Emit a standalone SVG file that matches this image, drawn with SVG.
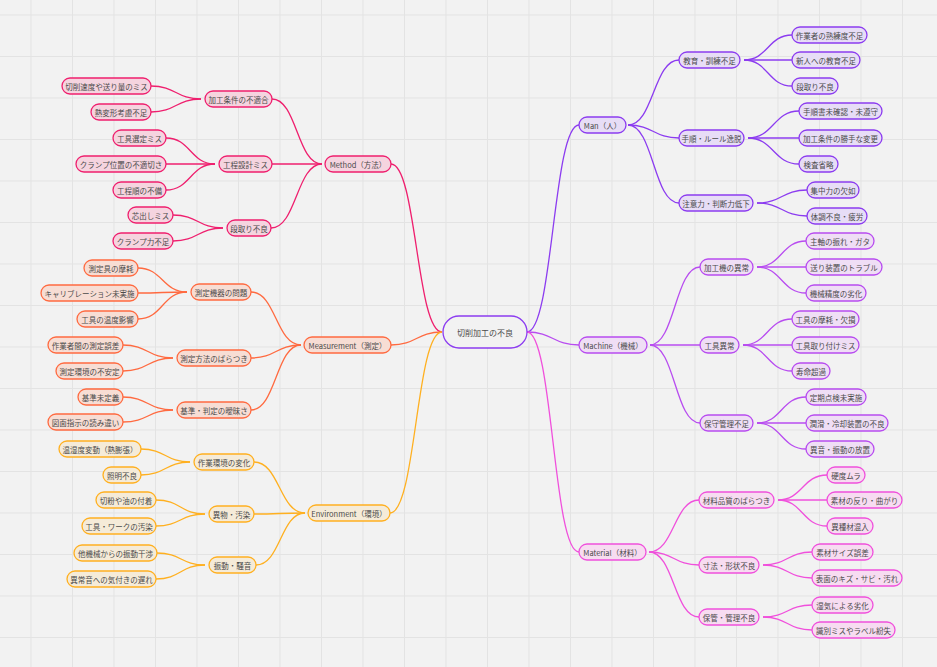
<svg xmlns="http://www.w3.org/2000/svg" width="937" height="667" viewBox="0 0 937 667">
<style>
  .bg{fill:#f2f2f2}
  .grid{stroke:#e3e3e3;stroke-width:1;fill:none}
  rect.b{rx:8px;ry:8px;stroke-width:1.3}
  text{font-family:"Noto Sans CJK JP","Noto Sans",sans-serif;font-size:7.5px;fill:#4a4a4a;text-anchor:middle;dominant-baseline:central}
  .c path{fill:none;stroke-width:1.3}
  .root rect{fill:#f2f2f2;stroke:#8c3cf0}
  .man rect{fill:#e7ddf6;stroke:#8c3cf0}
  .mac rect{fill:#efdef5;stroke:#b84cf0}
  .mat rect{fill:#f7dcf1;stroke:#f050dc}
  .met rect{fill:#f5d4df;stroke:#ef1f6e}
  .mea rect{fill:#f7ddd4;stroke:#ff6a40}
  .env rect{fill:#f5ebd8;stroke:#ffb020}
  .c .man{stroke:#8c3cf0}
  .c .mac{stroke:#b84cf0}
  .c .mat{stroke:#f050dc}
  .c .met{stroke:#ef1f6e}
  .c .mea{stroke:#ff6a40}
  .c .env{stroke:#ffb020}
</style>
<rect class="bg" x="0" y="0" width="937" height="667"/>
<path class="grid" d="M31 0V667M72.5 0V667M114 0V667M155.5 0V667M197 0V667M238.5 0V667M280 0V667M321.5 0V667M363 0V667M404.5 0V667M446 0V667M487.5 0V667M529 0V667M570.5 0V667M612 0V667M653.5 0V667M695 0V667M736.5 0V667M778 0V667M819.5 0V667M861 0V667M902.5 0V667M0 15H937M0 56.5H937M0 98H937M0 139.5H937M0 181H937M0 222.5H937M0 264H937M0 305.5H937M0 347H937M0 388.5H937M0 430H937M0 471.5H937M0 513H937M0 554.5H937M0 596H937M0 637.5H937"/>

<g id="connectors" class="c">
  <!-- root to L1 -->
  <path class="man" d="M527 332C553 332 553 125 579 125"/>
  <path class="mac" d="M527 332C553 332 553 345 579 345"/>
  <path class="mat" d="M527 332C553 332 553 552 579 552"/>
  <path class="met" d="M391 164C416.5 164 416.5 332 442 332"/>
  <path class="mea" d="M391 345C416.5 345 416.5 332 442 332"/>
  <path class="env" d="M390 513C416 513 416 332 442 332"/>
  <!-- Man -->
  <path class="man" d="M628 125C653.5 125 653.5 60 679 60"/>
  <path class="man" d="M628 125C653.5 125 653.5 138 679 138"/>
  <path class="man" d="M628 125C653.5 125 653.5 203 679 203"/>
  <path class="man" d="M744 60C768 60 768 35 792 35"/>
  <path class="man" d="M744 60C768 60 768 60 792 60"/>
  <path class="man" d="M744 60C768 60 768 86 792 86"/>
  <path class="man" d="M748 138C773.5 138 773.5 111 799 111"/>
  <path class="man" d="M748 138C773.5 138 773.5 138 799 138"/>
  <path class="man" d="M748 138C773.5 138 773.5 164 799 164"/>
  <path class="man" d="M757 203C782 203 782 190 807 190"/>
  <path class="man" d="M757 203C782 203 782 216 807 216"/>
  <!-- Machine -->
  <path class="mac" d="M650 345C675 345 675 267 700 267"/>
  <path class="mac" d="M650 345C675 345 675 345 700 345"/>
  <path class="mac" d="M650 345C675 345 675 423 700 423"/>
  <path class="mac" d="M757 267C781.5 267 781.5 241 806 241"/>
  <path class="mac" d="M757 267C781.5 267 781.5 267 806 267"/>
  <path class="mac" d="M757 267C781.5 267 781.5 293 806 293"/>
  <path class="mac" d="M743 345C767.5 345 767.5 319 792 319"/>
  <path class="mac" d="M743 345C767.5 345 767.5 345 792 345"/>
  <path class="mac" d="M743 345C767.5 345 767.5 371 792 371"/>
  <path class="mac" d="M757 423C781.5 423 781.5 397 806 397"/>
  <path class="mac" d="M757 423C781.5 423 781.5 423 806 423"/>
  <path class="mac" d="M757 423C781.5 423 781.5 449 806 449"/>
  <!-- Material -->
  <path class="mat" d="M649 552C674 552 674 500 699 500"/>
  <path class="mat" d="M649 552C674 552 674 565 699 565"/>
  <path class="mat" d="M649 552C674 552 674 617 699 617"/>
  <path class="mat" d="M778 500C802.5 500 802.5 475 827 475"/>
  <path class="mat" d="M778 500C802.5 500 802.5 500 827 500"/>
  <path class="mat" d="M778 500C802.5 500 802.5 526 827 526"/>
  <path class="mat" d="M763 565C787.5 565 787.5 552 812 552"/>
  <path class="mat" d="M763 565C787.5 565 787.5 578 812 578"/>
  <path class="mat" d="M763 617C787.5 617 787.5 605 812 605"/>
  <path class="mat" d="M763 617C787.5 617 787.5 630 812 630"/>
  <!-- Method -->
  <path class="met" d="M272 99C297 99 297 164 322 164"/>
  <path class="met" d="M272 164C297 164 297 164 322 164"/>
  <path class="met" d="M271 228C296.5 228 296.5 164 322 164"/>
  <path class="met" d="M151 86C176 86 176 99 201 99"/>
  <path class="met" d="M151 112C176 112 176 99 201 99"/>
  <path class="met" d="M166 138C190.5 138 190.5 164 215 164"/>
  <path class="met" d="M166 164C190.5 164 190.5 164 215 164"/>
  <path class="met" d="M166 190C190.5 190 190.5 164 215 164"/>
  <path class="met" d="M173 215C198 215 198 228 223 228"/>
  <path class="met" d="M173 241C198 241 198 228 223 228"/>
  <!-- Measurement -->
  <path class="mea" d="M251 292C276 292 276 345 301 345"/>
  <path class="mea" d="M251 358C276 358 276 345 301 345"/>
  <path class="mea" d="M251 410C276 410 276 345 301 345"/>
  <path class="mea" d="M138 268C162.5 268 162.5 292 187 292"/>
  <path class="mea" d="M138 293C162.5 293 162.5 292 187 292"/>
  <path class="mea" d="M138 319C162.5 319 162.5 292 187 292"/>
  <path class="mea" d="M123 345C148 345 148 358 173 358"/>
  <path class="mea" d="M123 371C148 371 148 358 173 358"/>
  <path class="mea" d="M123 397C148 397 148 410 173 410"/>
  <path class="mea" d="M123 422C148 422 148 410 173 410"/>
  <!-- Environment -->
  <path class="env" d="M254 462C279.5 462 279.5 513 305 513"/>
  <path class="env" d="M254 514C279.5 514 279.5 513 305 513"/>
  <path class="env" d="M256 565C280.5 565 280.5 513 305 513"/>
  <path class="env" d="M141 449C165.5 449 165.5 462 190 462"/>
  <path class="env" d="M141 475C165.5 475 165.5 462 190 462"/>
  <path class="env" d="M156 500C180.5 500 180.5 514 205 514"/>
  <path class="env" d="M156 526C180.5 526 180.5 514 205 514"/>
  <path class="env" d="M157 553C181 553 181 565 205 565"/>
  <path class="env" d="M156 579C180.5 579 180.5 565 205 565"/>
</g>

<g id="root" class="root"><rect class="b" x="443" y="316" width="84" height="32" style="rx:16px;ry:16px"/><text x="485" y="332" style="font-size:8px">切削加工の不良</text></g>

<!-- Man -->
<g id="man" class="man"><rect class="b" x="579" y="117" width="47" height="16"/><text x="602.5" y="125">Man（人）</text></g>
<g id="man-1" class="man"><rect class="b" x="679" y="52" width="61" height="16"/><text x="709.5" y="60">教育・訓練不足</text></g>
<g id="man-1-1" class="man"><rect class="b" x="792" y="27" width="75" height="16"/><text x="829.5" y="35">作業者の熟練度不足</text></g>
<g id="man-1-2" class="man"><rect class="b" x="792" y="52" width="68" height="16"/><text x="826" y="60">新人への教育不足</text></g>
<g id="man-1-3" class="man"><rect class="b" x="792" y="78" width="46" height="16"/><text x="815" y="86">段取り不良</text></g>
<g id="man-2" class="man"><rect class="b" x="679" y="130" width="65" height="16"/><text x="711.5" y="138">手順・ルール逸脱</text></g>
<g id="man-2-1" class="man"><rect class="b" x="799" y="103" width="83" height="16"/><text x="840.5" y="111">手順書未確認・未遵守</text></g>
<g id="man-2-2" class="man"><rect class="b" x="799" y="130" width="83" height="16"/><text x="840.5" y="138">加工条件の勝手な変更</text></g>
<g id="man-2-3" class="man"><rect class="b" x="799" y="156" width="39" height="16"/><text x="818.5" y="164">検査省略</text></g>
<g id="man-3" class="man"><rect class="b" x="679" y="195" width="74" height="16"/><text x="716" y="203">注意力・判断力低下</text></g>
<g id="man-3-1" class="man"><rect class="b" x="807" y="182" width="52" height="16"/><text x="833" y="190">集中力の欠如</text></g>
<g id="man-3-2" class="man"><rect class="b" x="807" y="208" width="60" height="16"/><text x="837" y="216">体調不良・疲労</text></g>

<!-- Machine -->
<g id="mac" class="mac"><rect class="b" x="579" y="337" width="68" height="16"/><text x="613" y="345">Machine（機械）</text></g>
<g id="mac-1" class="mac"><rect class="b" x="700" y="259" width="53" height="16"/><text x="726.5" y="267">加工機の異常</text></g>
<g id="mac-1-1" class="mac"><rect class="b" x="806" y="233" width="68" height="16"/><text x="840" y="241">主軸の振れ・ガタ</text></g>
<g id="mac-1-2" class="mac"><rect class="b" x="806" y="259" width="76" height="16"/><text x="844" y="267">送り装置のトラブル</text></g>
<g id="mac-1-3" class="mac"><rect class="b" x="806" y="285" width="60" height="16"/><text x="836" y="293">機械精度の劣化</text></g>
<g id="mac-2" class="mac"><rect class="b" x="700" y="337" width="39" height="16"/><text x="719.5" y="345">工具異常</text></g>
<g id="mac-2-1" class="mac"><rect class="b" x="792" y="311" width="67" height="16"/><text x="825.5" y="319">工具の摩耗・欠損</text></g>
<g id="mac-2-2" class="mac"><rect class="b" x="792" y="337" width="67" height="16"/><text x="825.5" y="345">工具取り付けミス</text></g>
<g id="mac-2-3" class="mac"><rect class="b" x="792" y="363" width="38" height="16"/><text x="811" y="371">寿命超過</text></g>
<g id="mac-3" class="mac"><rect class="b" x="700" y="415" width="53" height="16"/><text x="726.5" y="423">保守管理不足</text></g>
<g id="mac-3-1" class="mac"><rect class="b" x="806" y="389" width="60" height="16"/><text x="836" y="397">定期点検未実施</text></g>
<g id="mac-3-2" class="mac"><rect class="b" x="806" y="415" width="82" height="16"/><text x="847" y="423">潤滑・冷却装置の不良</text></g>
<g id="mac-3-3" class="mac"><rect class="b" x="806" y="441" width="68" height="16"/><text x="840" y="449">異音・振動の放置</text></g>

<!-- Material -->
<g id="mat" class="mat"><rect class="b" x="579" y="544" width="67" height="16"/><text x="612.5" y="552">Material（材料）</text></g>
<g id="mat-1" class="mat"><rect class="b" x="699" y="492" width="75" height="16"/><text x="736.5" y="500">材料品質のばらつき</text></g>
<g id="mat-1-1" class="mat"><rect class="b" x="827" y="467" width="38" height="16"/><text x="846" y="475">硬度ムラ</text></g>
<g id="mat-1-2" class="mat"><rect class="b" x="827" y="492" width="75" height="16"/><text x="864.5" y="500">素材の反り・曲がり</text></g>
<g id="mat-1-3" class="mat"><rect class="b" x="827" y="518" width="46" height="16"/><text x="850" y="526">異種材混入</text></g>
<g id="mat-2" class="mat"><rect class="b" x="699" y="557" width="60" height="16"/><text x="729" y="565">寸法・形状不良</text></g>
<g id="mat-2-1" class="mat"><rect class="b" x="812" y="544" width="61" height="16"/><text x="842.5" y="552">素材サイズ誤差</text></g>
<g id="mat-2-2" class="mat"><rect class="b" x="812" y="570" width="90" height="16"/><text x="857" y="578">表面のキズ・サビ・汚れ</text></g>
<g id="mat-3" class="mat"><rect class="b" x="699" y="609" width="60" height="16"/><text x="729" y="617">保管・管理不良</text></g>
<g id="mat-3-1" class="mat"><rect class="b" x="812" y="597" width="61" height="16"/><text x="842.5" y="605">湿気による劣化</text></g>
<g id="mat-3-2" class="mat"><rect class="b" x="812" y="622" width="83" height="16"/><text x="853.5" y="630">識別ミスやラベル紛失</text></g>

<!-- Method -->
<g id="met" class="met"><rect class="b" x="325" y="156" width="66" height="16"/><text x="358" y="164">Method（方法）</text></g>
<g id="met-1" class="met"><rect class="b" x="205" y="91" width="67" height="16"/><text x="238.5" y="99">加工条件の不適合</text></g>
<g id="met-1-1" class="met"><rect class="b" x="62" y="78" width="89" height="16"/><text x="106.5" y="86">切削速度や送り量のミス</text></g>
<g id="met-1-2" class="met"><rect class="b" x="91" y="104" width="60" height="16"/><text x="121" y="112">熱変形考慮不足</text></g>
<g id="met-2" class="met"><rect class="b" x="219" y="156" width="53" height="16"/><text x="245.5" y="164">工程設計ミス</text></g>
<g id="met-2-1" class="met"><rect class="b" x="113" y="130" width="53" height="16"/><text x="139.5" y="138">工具選定ミス</text></g>
<g id="met-2-2" class="met"><rect class="b" x="76" y="156" width="90" height="16"/><text x="121" y="164">クランプ位置の不適切さ</text></g>
<g id="met-2-3" class="met"><rect class="b" x="113" y="182" width="53" height="16"/><text x="139.5" y="190">工程順の不備</text></g>
<g id="met-3" class="met"><rect class="b" x="227" y="220" width="44" height="16"/><text x="249" y="228">段取り不良</text></g>
<g id="met-3-1" class="met"><rect class="b" x="128" y="207" width="45" height="16"/><text x="150.5" y="215">芯出しミス</text></g>
<g id="met-3-2" class="met"><rect class="b" x="113" y="233" width="60" height="16"/><text x="143" y="241">クランプ力不足</text></g>

<!-- Measurement -->
<g id="mea" class="mea"><rect class="b" x="304" y="337" width="87" height="16"/><text x="347.5" y="345">Measurement（測定）</text></g>
<g id="mea-1" class="mea"><rect class="b" x="191" y="284" width="60" height="16"/><text x="221" y="292">測定機器の問題</text></g>
<g id="mea-1-1" class="mea"><rect class="b" x="84" y="260" width="54" height="16"/><text x="111" y="268">測定具の摩耗</text></g>
<g id="mea-1-2" class="mea"><rect class="b" x="41" y="285" width="97" height="16"/><text x="89.5" y="293">キャリブレーション未実施</text></g>
<g id="mea-1-3" class="mea"><rect class="b" x="77" y="311" width="61" height="16"/><text x="107.5" y="319">工具の温度影響</text></g>
<g id="mea-2" class="mea"><rect class="b" x="177" y="350" width="74" height="16"/><text x="214" y="358">測定方法のばらつき</text></g>
<g id="mea-2-1" class="mea"><rect class="b" x="48" y="337" width="75" height="16"/><text x="85.5" y="345">作業者間の測定誤差</text></g>
<g id="mea-2-2" class="mea"><rect class="b" x="56" y="363" width="67" height="16"/><text x="89.5" y="371">測定環境の不安定</text></g>
<g id="mea-3" class="mea"><rect class="b" x="177" y="402" width="74" height="16"/><text x="214" y="410">基準・判定の曖昧さ</text></g>
<g id="mea-3-1" class="mea"><rect class="b" x="78" y="389" width="45" height="16"/><text x="100.5" y="397">基準未定義</text></g>
<g id="mea-3-2" class="mea"><rect class="b" x="48" y="414" width="75" height="16"/><text x="85.5" y="422">図面指示の読み違い</text></g>

<!-- Environment -->
<g id="env" class="env"><rect class="b" x="308" y="505" width="82" height="16"/><text x="349" y="513">Environment（環境）</text></g>
<g id="env-1" class="env"><rect class="b" x="194" y="454" width="60" height="16"/><text x="224" y="462">作業環境の変化</text></g>
<g id="env-1-1" class="env"><rect class="b" x="59" y="441" width="82" height="16"/><text x="100" y="449">温湿度変動（熱膨張）</text></g>
<g id="env-1-2" class="env"><rect class="b" x="103" y="467" width="38" height="16"/><text x="122" y="475">照明不良</text></g>
<g id="env-2" class="env"><rect class="b" x="209" y="506" width="45" height="16"/><text x="231.5" y="514">異物・汚染</text></g>
<g id="env-2-1" class="env"><rect class="b" x="96" y="492" width="60" height="16"/><text x="126" y="500">切粉や油の付着</text></g>
<g id="env-2-2" class="env"><rect class="b" x="82" y="518" width="74" height="16"/><text x="119" y="526">工具・ワークの汚染</text></g>
<g id="env-3" class="env"><rect class="b" x="209" y="557" width="47" height="16"/><text x="232.5" y="565">振動・騒音</text></g>
<g id="env-3-1" class="env"><rect class="b" x="74" y="545" width="83" height="16"/><text x="115.5" y="553">他機械からの振動干渉</text></g>
<g id="env-3-2" class="env"><rect class="b" x="67" y="571" width="89" height="16"/><text x="111.5" y="579">異常音への気付きの遅れ</text></g>
</svg>
